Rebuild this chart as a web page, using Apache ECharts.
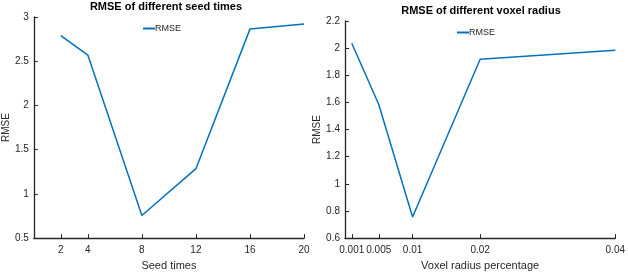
<!DOCTYPE html>
<html>
<head>
<meta charset="utf-8">
<script src="https://cdn.jsdelivr.net/npm/echarts@6/dist/echarts.min.js"></script>
<style>html,body{margin:0;padding:0;background:#fff}#c{width:628px;height:276px}</style>
</head>
<body>
<div id="c"></div>
<script>
// Left chart: RMSE vs seed times
const seedTimes = [2, 4, 8, 12, 16, 20];
const seedRMSE = [2.79, 2.57, 0.755, 1.285, 2.863, 2.92];
const seedTicks = [2, 4, 8, 12, 16, 20];
// Right chart: RMSE vs voxel radius percentage
const voxelRadius = [0.001, 0.005, 0.01, 0.02, 0.04];
const voxelRMSE = [2.036, 1.585, 0.756, 1.918, 1.985];
const voxelTicks = [0.001, 0.005, 0.01, 0.02, 0.04];

const FONT = 'Liberation Sans, Arial, sans-serif';
const TXT = '#262626';
const LINE = '#0072BD';

function xAx(grid, min, max, ticks, name, nameGap) {
  return {
    type: 'value', gridIndex: grid, min: min, max: max,
    name: name, nameLocation: 'middle', nameGap: nameGap,
    nameTextStyle: { color: TXT, fontSize: 11, fontFamily: FONT },
    axisLine: { show: true, lineStyle: { color: '#262626', width: 1.3 } },
    axisTick: { show: true, inside: true, length: 4, customValues: ticks, lineStyle: { color: '#262626' } },
    axisLabel: { customValues: ticks, color: TXT, fontSize: 10, fontFamily: FONT, margin: 7,
      hideOverlap: false, showMinLabel: true, showMaxLabel: true,
      formatter: v => String(v) },
    splitLine: { show: false }
  };
}
function yAx(grid, min, max, interval, nameGap) {
  return {
    type: 'value', gridIndex: grid, min: min, max: max, interval: interval,
    name: 'RMSE', nameLocation: 'middle', nameGap: nameGap,
    nameTextStyle: { color: TXT, fontSize: 10, fontFamily: FONT },
    axisLine: { show: true, lineStyle: { color: '#262626', width: 1.3 } },
    axisTick: { show: true, inside: true, length: 4, lineStyle: { color: '#262626' } },
    axisLabel: { color: TXT, fontSize: 10, fontFamily: FONT, margin: 5,
      formatter: v => String(+v.toFixed(2)) },
    splitLine: { show: false }
  };
}

const legendText = { color: TXT, fontSize: 9, fontFamily: FONT, padding: [0, 0, 0, -5] };

const chart = echarts.init(document.getElementById('c'), null, { renderer: 'canvas' });
chart.setOption({
  animation: false,
  backgroundColor: '#fff',
  title: [
    { text: 'RMSE of different seed times', left: 166, top: 1, padding: 0, textAlign: 'center',
      textStyle: { color: '#000', fontSize: 11, fontWeight: 'bold', fontFamily: FONT } },
    { text: 'RMSE of different voxel radius', left: 481, top: 5, padding: 0, textAlign: 'center',
      textStyle: { color: '#000', fontSize: 11, fontWeight: 'bold', fontFamily: FONT } }
  ],
  legend: [
    { data: ['RMSE'], left: 143, top: 24, padding: 0, itemWidth: 12, itemHeight: 2, itemGap: 0, icon: 'rect',
      textStyle: legendText },
    { data: ['RMSE '], left: 457, top: 28, padding: 0, itemWidth: 12, itemHeight: 2, itemGap: 0, icon: 'rect',
      textStyle: legendText }
  ],
  grid: [
    { left: 29, right: 324, top: 17, bottom: 33 },
    { left: 345, right: 11, top: 21, bottom: 34 }
  ],
  xAxis: [
    xAx(0, 0, 20, seedTicks, 'Seed times', 20),
    xAx(1, 0, 0.04, voxelTicks, 'Voxel radius percentage', 21)
  ],
  yAxis: [
    yAx(0, 0.5, 3, 0.5, 14),
    yAx(1, 0.6, 2.2, 0.2, 13)
  ],
  series: [
    { name: 'RMSE', type: 'line', xAxisIndex: 0, yAxisIndex: 0, showSymbol: false,
      lineStyle: { color: LINE, width: 1.5 }, itemStyle: { color: LINE },
      data: seedTimes.map((x, i) => [x, seedRMSE[i]]) },
    { name: 'RMSE ', type: 'line', xAxisIndex: 1, yAxisIndex: 1, showSymbol: false,
      lineStyle: { color: LINE, width: 1.5 }, itemStyle: { color: LINE },
      data: voxelRadius.map((x, i) => [x, voxelRMSE[i]]) }
  ]
});
</script>
</body>
</html>
